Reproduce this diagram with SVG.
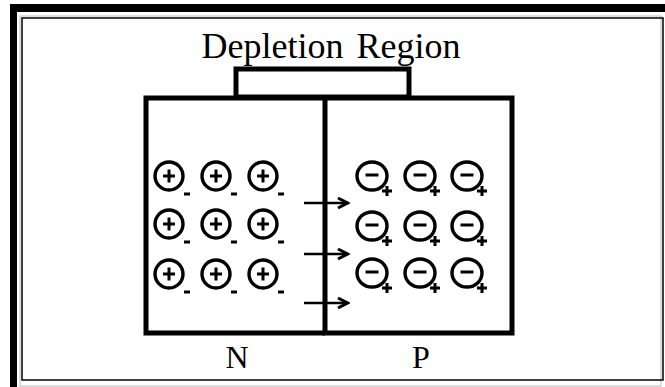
<svg xmlns="http://www.w3.org/2000/svg" width="665" height="387" viewBox="0 0 665 387">
  <style>
    .lbl { font-family: "Liberation Serif", "Times New Roman", serif; fill: #000; }
    .box { fill: none; stroke: #000; stroke-width: 5; }
    .ion { fill: none; stroke: #000; stroke-width: 3.4; }
    .sign { stroke: #000; stroke-width: 3; fill: none; }
    .wire { stroke: #000; stroke-width: 2.5; fill: none; }
  </style>
  <defs>
    <marker id="head" viewBox="0 0 14 14" refX="12.5" refY="7" markerWidth="14" markerHeight="14" markerUnits="userSpaceOnUse" orient="auto">
      <path d="M2.5,2 L12,7 L2.5,12" fill="none" stroke="#000" stroke-width="3"/>
    </marker>
    <!-- donor ion: circled plus with a small minus -->
    <g id="donor">
      <circle cx="0" cy="0" r="14" class="ion"/>
      <path d="M-6,0 H6 M0,-6.5 V6.5" class="sign"/>
      <path d="M15,18 H21" class="sign" stroke-width="2.4"/>
    </g>
    <!-- acceptor ion: circled minus with a small plus -->
    <g id="acceptor">
      <ellipse cx="0" cy="0" rx="15" ry="14" class="ion"/>
      <path d="M-6.5,-1 H6.5" class="sign" stroke-width="2.2"/>
      <path d="M10,15 H20 M15,10 V20" class="sign" stroke-width="2.6"/>
    </g>
  </defs>

  <rect width="665" height="387" fill="#fff"/>

  <!-- frame -->
  <g id="frame">
    <rect x="10" y="4" width="655" height="8" fill="#000"/>
    <rect x="10" y="4" width="7" height="383" fill="#000"/>
    <rect x="20" y="16" width="641" height="370" fill="none" stroke="#bbb" stroke-width="1"/>
    <rect x="22" y="18" width="641" height="362" fill="none" stroke="#000" stroke-width="1.5"/>
  </g>

  <g id="title">
    <text class="lbl" x="331" y="58" font-size="36" text-anchor="middle" word-spacing="4">Depletion Region</text>
  </g>

  <!-- junction block -->
  <g id="tab">
    <rect x="236" y="69" width="173" height="28" class="box"/>
  </g>
  <g id="n-region">
    <path d="M325,98 H146 V333 H325" class="box"/>
    <use href="#donor" x="169" y="176"/>
    <use href="#donor" x="216" y="176"/>
    <use href="#donor" x="263" y="176"/>
    <use href="#donor" x="169" y="224"/>
    <use href="#donor" x="216" y="224"/>
    <use href="#donor" x="263" y="224"/>
    <use href="#donor" x="169" y="274"/>
    <use href="#donor" x="216" y="274"/>
    <use href="#donor" x="263" y="274"/>
    <text class="lbl" x="237" y="368" font-size="32" text-anchor="middle">N</text>
  </g>
  <g id="p-region">
    <path d="M325,98 H512 V333 H325 Z" class="box"/>
    <use href="#acceptor" x="372" y="176"/>
    <use href="#acceptor" x="420" y="176"/>
    <use href="#acceptor" x="467" y="176"/>
    <use href="#acceptor" x="372" y="226"/>
    <use href="#acceptor" x="420" y="226"/>
    <use href="#acceptor" x="467" y="226"/>
    <use href="#acceptor" x="372" y="273"/>
    <use href="#acceptor" x="420" y="273"/>
    <use href="#acceptor" x="467" y="273"/>
    <text class="lbl" x="421" y="368" font-size="32" text-anchor="middle">P</text>
  </g>

  <g id="connectors">
    <path d="M304,203 H348" class="wire" marker-end="url(#head)"/>
    <path d="M304,254 H348" class="wire" marker-end="url(#head)"/>
    <path d="M304,303 H348" class="wire" marker-end="url(#head)"/>
  </g>
</svg>
